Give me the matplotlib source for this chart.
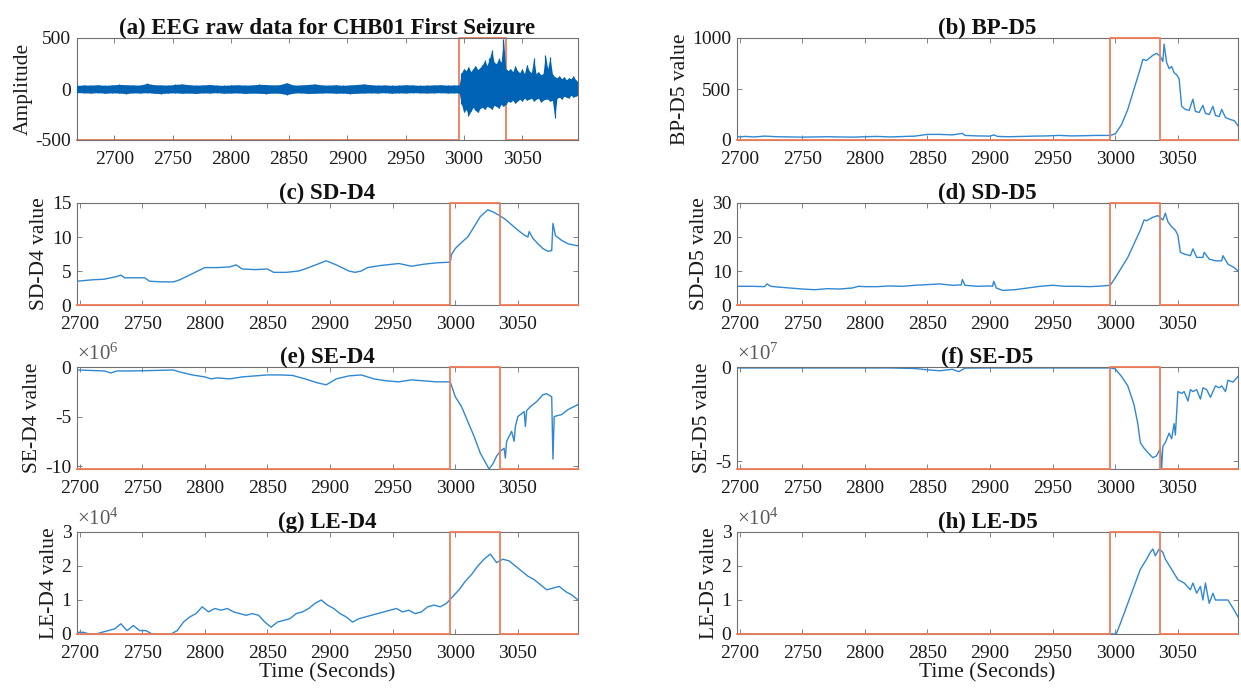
import matplotlib
matplotlib.use('Agg')
import matplotlib.pyplot as plt
import numpy as np

plt.rcParams['font.family'] = ['Liberation Serif', 'DejaVu Serif']
plt.rcParams['mathtext.fontset'] = 'custom'
plt.rcParams['mathtext.rm'] = 'Liberation Serif'
plt.rcParams['mathtext.it'] = 'Liberation Serif:italic'
plt.rcParams['axes.unicode_minus'] = False

# ---------------- data ----------------
seizure_start = 2996
seizure_end = 3036

# (a) raw EEG: envelope (upper / lower)
raw_base_t = list(range(2668, 2993, 6))
raw_base_hi = [35, 40, 38, 42, 36, 40, 45, 42, 40, 38, 55, 42, 40, 38, 45, 50, 42, 38, 40, 44,
               38, 36, 40, 42, 38, 40, 46, 44, 40, 42, 62, 38, 40, 44, 50, 40, 38, 42, 36, 40,
               44, 50, 42, 38, 40, 36, 38, 42, 40, 36, 38, 40, 42, 38, 40]
raw_base_lo = [-35, -38, -40, -36, -42, -38, -40, -45, -38, -40, -36, -42, -45, -40, -38, -42, -40, -44, -38, -40,
               -36, -42, -40, -38, -44, -40, -42, -45, -40, -42, -55, -40, -38, -44, -42, -40, -38, -42, -40, -45,
               -42, -40, -38, -40, -36, -42, -38, -40, -36, -38, -40, -38, -36, -40, -38]
raw_sz_t = list(range(2996, 3099, 2))
raw_sz_hi = [40, 160, 200, 180, 220, 170, 200, 230, 190, 210, 240, 280, 230, 300, 380, 260, 250, 300, 260, 490,
             200, 180, 200, 170, 230, 180, 160, 200, 150, 240, 180, 160, 300, 150, 170, 140, 150, 330, 200, 310,
             150, 120, 110, 130, 100, 120, 90, 110, 100, 130, 90, 70]
raw_sz_lo = [-40, -150, -230, -200, -260, -220, -180, -210, -230, -190, -180, -200, -170, -180, -200, -160, -170, -190, -150, -170,
             -150, -120, -130, -110, -140, -120, -100, -120, -90, -110, -100, -90, -120, -100, -90, -130, -110, -100, -100, -120,
             -110, -280, -90, -80, -100, -70, -80, -90, -60, -80, -70, -60]

# (b) BP-D5
bp5_t = [2698, 2705, 2712, 2720, 2730, 2740, 2750, 2760, 2770, 2780, 2790, 2800, 2810, 2820, 2830, 2840, 2850,
         2860, 2870, 2878, 2880, 2890, 2900, 2903, 2906, 2915, 2925, 2935, 2945, 2955, 2965, 2975, 2985, 2996,
         3000, 3005, 3010, 3015, 3020, 3022, 3025, 3030, 3033, 3036, 3038, 3039, 3041, 3043, 3045, 3047, 3049,
         3051, 3053, 3056, 3059, 3062, 3064, 3067, 3070, 3072, 3075, 3078, 3080, 3083, 3085, 3088, 3092, 3095, 3098]
bp5_v = [30, 35, 30, 38, 32, 30, 28, 30, 32, 30, 28, 32, 35, 30, 34, 38, 55,
         55, 50, 65, 45, 40, 38, 50, 35, 32, 35, 38, 40, 45, 40, 42, 45, 45,
         60, 150, 300, 500, 700, 790, 780, 830, 850, 820, 770, 940, 760, 700, 720, 660, 640,
         600, 330, 300, 290, 400, 280, 270, 340, 260, 250, 330, 240, 230, 300, 220, 200, 190, 140]

# (c) SD-D4
sd4_t = [2698, 2710, 2720, 2730, 2733, 2736, 2745, 2752, 2756, 2765, 2775, 2780, 2790, 2800, 2810, 2820, 2825,
         2830, 2840, 2850, 2855, 2865, 2875, 2880, 2890, 2897, 2905, 2915, 2920, 2925, 2930, 2940, 2950, 2955,
         2965, 2975, 2985, 2996, 2997, 3000, 3005, 3010, 3015, 3020, 3026, 3030, 3035, 3040, 3045, 3050, 3055,
         3058, 3059, 3062, 3066, 3070, 3074, 3077, 3078, 3080, 3085, 3090, 3098]
sd4_v = [3.5, 3.7, 3.8, 4.2, 4.4, 4.0, 4.0, 4.0, 3.5, 3.4, 3.4, 3.7, 4.6, 5.5, 5.5, 5.6, 5.9,
         5.3, 5.2, 5.3, 4.8, 4.8, 5.0, 5.3, 6.0, 6.5, 5.9, 5.0, 4.8, 5.0, 5.5, 5.8, 6.0, 6.1,
         5.7, 6.0, 6.2, 6.3, 7.4, 8.3, 9.2, 10.0, 11.5, 13.0, 14.0, 13.7, 13.2, 12.6, 11.8, 11.0, 10.3,
         10.0, 10.8, 9.8, 9.0, 8.3, 7.9, 8.0, 12.0, 10.2, 9.5, 9.0, 8.7]

# (d) SD-D5
sd5_t = [2698, 2710, 2720, 2722, 2725, 2730, 2740, 2750, 2760, 2770, 2780, 2790, 2795, 2800, 2810, 2820, 2830,
         2840, 2850, 2860, 2870, 2877, 2878, 2880, 2890, 2900, 2902, 2903, 2905, 2910, 2920, 2930, 2940, 2950,
         2960, 2970, 2980, 2990, 2996, 3000, 3005, 3010, 3015, 3020, 3023, 3025, 3030, 3034, 3038, 3040, 3042,
         3045, 3048, 3050, 3052, 3055, 3060, 3062, 3065, 3070, 3071, 3075, 3080, 3085, 3086, 3090, 3095, 3098]
sd5_v = [5.5, 5.5, 5.4, 6.2, 5.5, 5.3, 5.0, 4.7, 4.5, 4.8, 4.7, 5.0, 5.5, 5.4, 5.4, 5.6, 5.5,
         5.8, 6.0, 6.2, 5.8, 5.9, 7.5, 5.8, 5.5, 5.6, 5.5, 7.0, 5.0, 4.3, 4.5, 5.0, 5.5, 5.8,
         5.5, 5.5, 5.4, 5.6, 5.8, 8.0, 11.0, 14.0, 18.0, 22.0, 25.0, 24.8, 25.8, 26.3, 25.0, 27.0, 24.5,
         23.0, 22.0, 20.5, 15.5, 15.0, 14.5, 16.5, 14.0, 14.0, 15.5, 13.5, 13.0, 13.0, 14.5, 12.0, 11.0, 10.0]

# (e) SE-D4 (x 1e6)
se4_t = [2698, 2720, 2725, 2730, 2740, 2760, 2775, 2780, 2790, 2800, 2805, 2810, 2820, 2830, 2840, 2850, 2860,
         2870, 2880, 2890, 2897, 2905, 2915, 2925, 2935, 2945, 2955, 2965, 2975, 2985, 2996, 3000, 3005, 3010,
         3015, 3020, 3027, 3030, 3033, 3036, 3039, 3040, 3041, 3045, 3047, 3048, 3050, 3055, 3056, 3057, 3060,
         3065, 3070, 3073, 3077, 3078, 3079, 3085, 3090, 3098]
se4_v = [-0.3, -0.4, -0.6, -0.4, -0.4, -0.35, -0.3, -0.5, -0.8, -1.0, -1.2, -1.1, -1.2, -1.0, -0.9, -0.8, -0.8,
         -0.85, -1.2, -1.6, -1.8, -1.2, -0.9, -0.8, -1.2, -1.4, -1.5, -1.3, -1.4, -1.5, -1.5, -3.0, -4.0, -5.5,
         -7.0, -8.7, -10.3, -9.8, -9.0, -8.5, -8.2, -9.2, -7.5, -6.5, -7.5, -6.0, -5.0, -4.5, -6.0, -4.4, -4.0,
         -3.5, -2.8, -2.7, -3.0, -9.3, -5.0, -4.8, -4.3, -3.8]

# (f) SE-D5 (x 1e7)
se5_t = [2698, 2720, 2740, 2760, 2780, 2800, 2820, 2840, 2850, 2860, 2870, 2875, 2880, 2900, 2920, 2940, 2960,
         2980, 2996, 3000, 3005, 3010, 3015, 3018, 3020, 3023, 3027, 3030, 3033, 3036, 3037, 3038, 3040, 3043,
         3045, 3047, 3048, 3050, 3053, 3055, 3058, 3060, 3062, 3065, 3068, 3070, 3073, 3076, 3080, 3083, 3085,
         3088, 3090, 3094, 3098]
se5_v = [-0.05, -0.05, -0.05, -0.05, -0.05, -0.05, -0.05, -0.08, -0.15, -0.2, -0.12, -0.25, -0.06, -0.05, -0.05, -0.05, -0.05,
         -0.05, -0.05, -0.1, -0.5, -1.0, -2.0, -3.0, -4.0, -4.3, -4.6, -4.8, -4.7, -4.3, -5.4, -4.2, -4.0, -3.5,
         -3.8, -3.0, -3.6, -1.3, -1.4, -1.3, -1.8, -1.2, -1.3, -1.2, -1.7, -1.1, -1.2, -1.6, -1.0, -1.1, -1.0,
         -1.3, -0.7, -0.8, -0.5]

# (g) LE-D4 (x 1e4)
le4_t = list(range(2698, 3099, 5))
le4_v = [0.05, 0.05, 0.0, 0.0, 0.05, 0.1, 0.15, 0.3, 0.1, 0.25, 0.1, 0.1, 0.0, 0.0, 0.0, 0.0, 0.1, 0.35,
         0.5, 0.6, 0.8, 0.65, 0.75, 0.7, 0.75, 0.65, 0.6, 0.55, 0.6, 0.55, 0.35, 0.2, 0.35, 0.4, 0.45, 0.6,
         0.65, 0.75, 0.9, 1.0, 0.85, 0.75, 0.6, 0.5, 0.35, 0.45, 0.5, 0.55, 0.6, 0.65, 0.7, 0.75, 0.65, 0.7,
         0.6, 0.65, 0.8, 0.85, 0.8, 0.9, 1.1, 1.3, 1.55, 1.75, 2.0, 2.2, 2.35, 2.1, 2.2, 2.15, 2.0, 1.85,
         1.7, 1.6, 1.45, 1.3, 1.35, 1.4, 1.25, 1.15, 1.0]

# (h) LE-D5 (x 1e4)
le5_t = [2698, 2800, 2900, 3000, 3001, 3005, 3010, 3015, 3020, 3025, 3028, 3030, 3032, 3035, 3038, 3040, 3045,
         3050, 3055, 3060, 3062, 3065, 3068, 3070, 3072, 3075, 3078, 3080, 3085, 3090, 3095, 3098]
le5_v = [0.0, 0.0, 0.0, 0.0, 0.02, 0.4, 0.9, 1.4, 1.9, 2.2, 2.4, 2.5, 2.3, 2.5, 2.4, 2.2, 1.9,
         1.6, 1.5, 1.3, 1.5, 1.2, 1.4, 1.0, 1.5, 0.9, 1.2, 1.0, 1.0, 1.0, 0.7, 0.5]

x_ticks = [2700, 2750, 2800, 2850, 2900, 2950, 3000, 3050]

# ---------------- figure ----------------
BLUE = '#0062B2'
LINE_BLUE = '#3088D2'
RED = '#EE7D5A'
AX_GRAY = '#707070'

fig = plt.figure(figsize=(12.41, 6.9), dpi=100)
W, H = 1241.0, 690.0
col_left = [77, 737]
col_w = 501
row_top = [38, 203, 367, 532]
row_h = 102

TICK_FS = 14
TITLE_FS = 16.5
LABEL_FS = 15.5


def make_ax(col, row):
    x0 = col_left[col] / W
    y0 = 1 - (row_top[row] + row_h) / H
    return fig.add_axes([x0, y0, col_w / W, row_h / H])


def style(ax, xlim, ylim, yticks, yticklabels, title, ylabel, exp=None, xlabel=False):
    ax.set_xlim(*xlim)
    ax.set_ylim(*ylim)
    ax.set_xticks(x_ticks)
    ax.set_xticklabels([str(v) for v in x_ticks], fontsize=TICK_FS)
    ax.set_yticks(yticks)
    ax.set_yticklabels(yticklabels, fontsize=TICK_FS)
    ax.tick_params(direction='in', top=True, right=True, length=3.5, width=0.6,
                   color=AX_GRAY, labelcolor='#1a1a1a')
    ax.tick_params(axis='x', pad=8)
    ax.tick_params(axis='y', pad=4)
    for s in ax.spines.values():
        s.set_color(AX_GRAY)
        s.set_linewidth(0.8)
    ax.set_title(title, fontsize=TITLE_FS, fontweight='bold', pad=3, color='#111111')
    ax.set_ylabel(ylabel, fontsize=LABEL_FS, labelpad=2, color='#1a1a1a')
    if exp is not None:
        ax.text(0.0, 1.025, r'$\times10^{%d}$' % exp, transform=ax.transAxes,
                fontsize=15, color='#5a5a5a', ha='left', va='bottom')
    if xlabel:
        ax.set_xlabel('Time (Seconds)', fontsize=LABEL_FS, labelpad=1, color='#1a1a1a')


def seizure_box(ax, xlim, ylim, z):
    xs = [xlim[0], seizure_start, seizure_start, seizure_end, seizure_end, xlim[1]]
    ys = [ylim[0], ylim[0], ylim[1], ylim[1], ylim[0], ylim[0]]
    ax.plot(xs, ys, color=RED, lw=1.3, clip_on=False, zorder=z)


XL = (2698, 3098)

# (a)
ax = make_ax(0, 0)
xa = (2668, 3098)
ya = (-500, 500)
seizure_box(ax, xa, ya, 1)
ta = raw_base_t + raw_sz_t
hia = raw_base_hi + raw_sz_hi
loa = raw_base_lo + raw_sz_lo
ax.fill_between(ta, loa, hia, color=BLUE, lw=0, zorder=2)
ax.vlines(ta, loa, hia, color=BLUE, lw=0.9, zorder=3)
style(ax, xa, ya, [-500, 0, 500], ['-500', '0', '500'],
      '(a) EEG raw data for CHB01 First Seizure', 'Amplitude')

# (b)
ax = make_ax(1, 0)
yl = (0, 1000)
ax.plot(bp5_t, bp5_v, color=LINE_BLUE, lw=1.0, zorder=2)
seizure_box(ax, XL, yl, 3)
style(ax, XL, yl, [0, 500, 1000], ['0', '500', '1000'], '(b) BP-D5', 'BP-D5 value')

# (c)
ax = make_ax(0, 1)
yl = (0, 15)
ax.plot(sd4_t, sd4_v, color=LINE_BLUE, lw=1.0, zorder=2)
seizure_box(ax, XL, yl, 3)
style(ax, XL, yl, [0, 5, 10, 15], ['0', '5', '10', '15'], '(c) SD-D4', 'SD-D4 value')

# (d)
ax = make_ax(1, 1)
yl = (0, 30)
ax.plot(sd5_t, sd5_v, color=LINE_BLUE, lw=1.0, zorder=2)
seizure_box(ax, XL, yl, 3)
style(ax, XL, yl, [0, 10, 20, 30], ['0', '10', '20', '30'], '(d) SD-D5', 'SD-D5 value')

# (e)
ax = make_ax(0, 2)
yl = (-10.3e6, 0)
ax.plot(se4_t, np.array(se4_v) * 1e6, color=LINE_BLUE, lw=1.0, zorder=2)
seizure_box(ax, XL, yl, 3)
style(ax, XL, yl, [-10e6, -5e6, 0], ['-10', '-5', '0'], '(e) SE-D4', 'SE-D4 value', exp=6)

# (f)
ax = make_ax(1, 2)
yl = (-5.4e7, 0)
ax.plot(se5_t, np.array(se5_v) * 1e7, color=LINE_BLUE, lw=1.0, zorder=2)
seizure_box(ax, XL, yl, 3)
style(ax, XL, yl, [-5e7, 0], ['-5', '0'], '(f) SE-D5', 'SE-D5 value', exp=7)

# (g)
ax = make_ax(0, 3)
yl = (0, 3e4)
ax.plot(le4_t, np.array(le4_v) * 1e4, color=LINE_BLUE, lw=1.0, zorder=2)
seizure_box(ax, XL, yl, 3)
style(ax, XL, yl, [0, 1e4, 2e4, 3e4], ['0', '1', '2', '3'], '(g) LE-D4', 'LE-D4 value',
      exp=4, xlabel=True)

# (h)
ax = make_ax(1, 3)
yl = (0, 3e4)
ax.plot(le5_t, np.array(le5_v) * 1e4, color=LINE_BLUE, lw=1.0, zorder=2)
seizure_box(ax, XL, yl, 3)
style(ax, XL, yl, [0, 1e4, 2e4, 3e4], ['0', '1', '2', '3'], '(h) LE-D5', 'LE-D5 value',
      exp=4, xlabel=True)

fig.savefig('out.png', dpi=100)
